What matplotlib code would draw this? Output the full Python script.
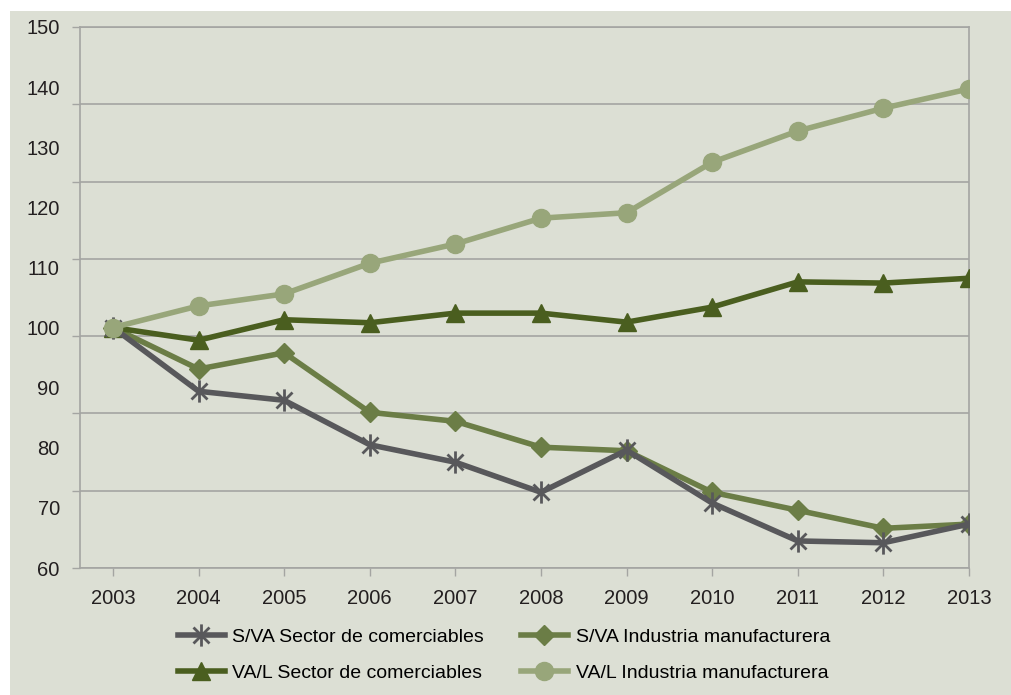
import numpy as np
import matplotlib
matplotlib.use("Agg")
import matplotlib.pyplot as plt
from matplotlib.path import Path
from matplotlib.patches import Rectangle

years = [2003, 2004, 2005, 2006, 2007, 2008, 2009, 2010, 2011, 2012, 2013]
sva_sector = [100, 89.4, 87.9, 80.5, 77.6, 72.6, 79.6, 70.8, 64.5, 64.2, 67.3]
sva_industria = [100, 93.1, 95.8, 85.9, 84.4, 80.1, 79.5, 72.6, 69.6, 66.6, 67.3]
val_sector = [100, 97.9, 101.3, 100.8, 102.4, 102.4, 100.9, 103.4, 107.6, 107.4, 108.2]
val_industria = [100, 103.6, 105.6, 110.7, 113.9, 118.2, 119.1, 127.5, 132.7, 136.5, 139.7]
y_labels = [60, 70, 80, 90, 100, 110, 120, 130, 140, 150]

plt.rcParams['font.family'] = ['Liberation Sans', 'DejaVu Sans']

bg = '#dcdfd4'
grid_c = '#a4a5a2'
text_c = '#231f20'

fig = plt.figure(figsize=(10.12, 6.95), dpi=100)
fig.patch.set_facecolor('white')
fig.patches.append(Rectangle((10 / 1012, 0), 1, (695 - 11) / 695,
                             transform=fig.transFigure, facecolor=bg,
                             edgecolor='none', zorder=-10))

ax = fig.add_axes([80 / 1012, 1 - 568 / 695, (969 - 80) / 1012, (568 - 27) / 695])
ax.set_facecolor(bg)

# excel-style star: vertical bar plus an x
star = Path([(0, -1), (0, 1), (-0.72, -0.72), (0.72, 0.72), (-0.72, 0.72), (0.72, -0.72)],
            [Path.MOVETO, Path.LINETO] * 3)

l2, = ax.plot(years, sva_industria, color='#6b7d46', lw=4, marker='D', ms=10,
              mec='#6b7d46', label='S/VA Industria manufacturera', zorder=3)
l3, = ax.plot(years, val_sector, color='#4a5e1f', lw=4, marker='^', ms=13,
              mec='#4a5e1f', label='VA/L Sector de comerciables', zorder=3)
l1, = ax.plot(years, sva_sector, color='#58585b', lw=4, marker=star, ms=16,
              mew=2, mec='#58585b', label='S/VA Sector de comerciables', zorder=4)
l4, = ax.plot(years, val_industria, color='#98a67a', lw=4, marker='o', ms=13,
              mec='#98a67a', label='VA/L Industria manufacturera', zorder=5)

ax.set_xlim(2003 - 0.385, 2013)
ax.set_ylim(60, 150)

# gridlines split the range in 7, labels go every 10
ax.yaxis.remove_overlapping_locs = False
grid_pos = np.linspace(60, 150, 8)
ax.set_yticks(grid_pos)
ax.set_yticklabels([])
ax.set_yticks(y_labels, [str(v) for v in y_labels], minor=True)
ax.tick_params(axis='y', which='major', length=6, color=grid_c, width=1)
ax.tick_params(axis='y', which='minor', length=0, pad=14.5, labelsize=14.5,
               labelcolor=text_c)
ax.yaxis.grid(True, which='major', color=grid_c, lw=1.2)

ax.set_xticks(years, [str(y) for y in years])
ax.tick_params(axis='x', length=6, color=grid_c, width=1, pad=9,
               labelsize=14.5, labelcolor=text_c)

for s in ax.spines.values():
    s.set_color(grid_c)
    s.set_linewidth(1.2)

fig.legend(handles=[l1, l3, l2, l4], ncol=2, loc='upper left',
           bbox_to_anchor=(178 / 1012, 1 - 628 / 695), frameon=False,
           fontsize=14, handlelength=2.4, handletextpad=0.4,
           columnspacing=1.9, labelspacing=0.95, borderpad=0, borderaxespad=0)

fig.savefig('out.png', dpi=100, facecolor=fig.get_facecolor())
